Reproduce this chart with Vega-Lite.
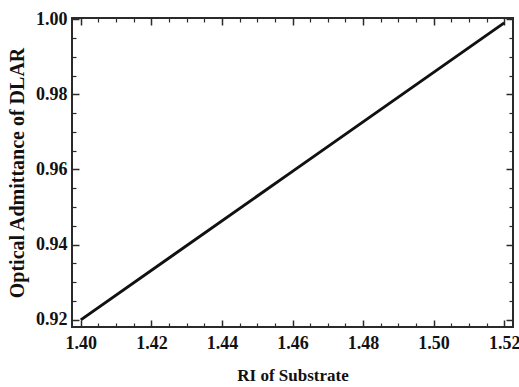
{
  "$schema": "https://vega.github.io/schema/vega-lite/v6.json",
  "width": 441,
  "height": 309,
  "autosize": {"type": "none"},
  "padding": {"left": 72, "top": 18, "right": 6, "bottom": 60},
  "background": "white",
  "config": {
    "view": {"stroke": "#2a2a2a", "strokeWidth": 2},
    "axis": {
      "grid": false,
      "domain": false,
      "tickColor": "#2a2a2a",
      "labelFont": "Liberation Serif",
      "labelFontWeight": "bold",
      "labelFontSize": 18,
      "labelColor": "#111",
      "titleFont": "Liberation Serif",
      "titleFontWeight": "bold",
      "titleFontSize": 17,
      "titleColor": "#111"
    }
  },
  "data": {
    "values": [
      {"ri": 1.40, "adm": 0.9200},
      {"ri": 1.46, "adm": 0.9595},
      {"ri": 1.52, "adm": 0.9990}
    ]
  },
  "resolve": {"axis": {"x": "independent", "y": "independent"}},
  "layer": [
    {
      "mark": {"type": "line", "color": "#111", "strokeWidth": 3, "clip": true},
      "encoding": {
        "x": {
          "field": "ri", "type": "quantitative",
          "scale": {"domain": [1.3975, 1.5225], "nice": false, "zero": false},
          "axis": {
            "orient": "bottom",
            "values": [1.40, 1.42, 1.44, 1.46, 1.48, 1.50, 1.52],
            "format": ".2f",
            "tickSize": -7, "tickWidth": 1.5,
            "labelPadding": 14,
            "title": "RI of Substrate",
            "titlePadding": 15
          }
        },
        "y": {
          "field": "adm", "type": "quantitative",
          "scale": {"domain": [0.9181, 1.0003], "nice": false, "zero": false},
          "axis": {
            "orient": "left",
            "values": [0.92, 0.94, 0.96, 0.98, 1.00],
            "format": ".2f",
            "tickSize": -7, "tickWidth": 1.5,
            "labelPadding": 12,
            "title": "Optical Admittance of  DLAR",
            "titleFontSize": 20,
            "titlePadding": 8
          }
        }
      }
    },
    {
      "mark": {"type": "line", "opacity": 0},
      "encoding": {
        "x": {
          "field": "ri", "type": "quantitative",
          "axis": {
            "orient": "bottom",
            "values": [1.405, 1.41, 1.415, 1.425, 1.43, 1.435, 1.445, 1.45, 1.455, 1.465, 1.47, 1.475, 1.485, 1.49, 1.495, 1.505, 1.51, 1.515],
            "tickSize": -4, "tickWidth": 1.2,
            "labels": false, "title": null
          }
        },
        "y": {
          "field": "adm", "type": "quantitative",
          "axis": {
            "orient": "left",
            "values": [0.925, 0.93, 0.935, 0.945, 0.95, 0.955, 0.965, 0.97, 0.975, 0.985, 0.99, 0.995],
            "tickSize": -4, "tickWidth": 1.2,
            "labels": false, "title": null
          }
        }
      }
    },
    {
      "mark": {"type": "line", "opacity": 0},
      "encoding": {
        "x": {
          "field": "ri", "type": "quantitative",
          "axis": {
            "orient": "top",
            "values": [1.40, 1.42, 1.44, 1.46, 1.48, 1.50, 1.52],
            "tickSize": -7, "tickWidth": 1.5,
            "labels": false, "title": null
          }
        },
        "y": {
          "field": "adm", "type": "quantitative",
          "axis": {
            "orient": "right",
            "values": [0.92, 0.94, 0.96, 0.98, 1.00],
            "tickSize": -7, "tickWidth": 1.5,
            "labels": false, "title": null
          }
        }
      }
    },
    {
      "mark": {"type": "line", "opacity": 0},
      "encoding": {
        "x": {
          "field": "ri", "type": "quantitative",
          "axis": {
            "orient": "top",
            "values": [1.405, 1.41, 1.415, 1.425, 1.43, 1.435, 1.445, 1.45, 1.455, 1.465, 1.47, 1.475, 1.485, 1.49, 1.495, 1.505, 1.51, 1.515],
            "tickSize": -4, "tickWidth": 1.2,
            "labels": false, "title": null
          }
        },
        "y": {
          "field": "adm", "type": "quantitative",
          "axis": {
            "orient": "right",
            "values": [0.925, 0.93, 0.935, 0.945, 0.95, 0.955, 0.965, 0.97, 0.975, 0.985, 0.99, 0.995],
            "tickSize": -4, "tickWidth": 1.2,
            "labels": false, "title": null
          }
        }
      }
    }
  ]
}
